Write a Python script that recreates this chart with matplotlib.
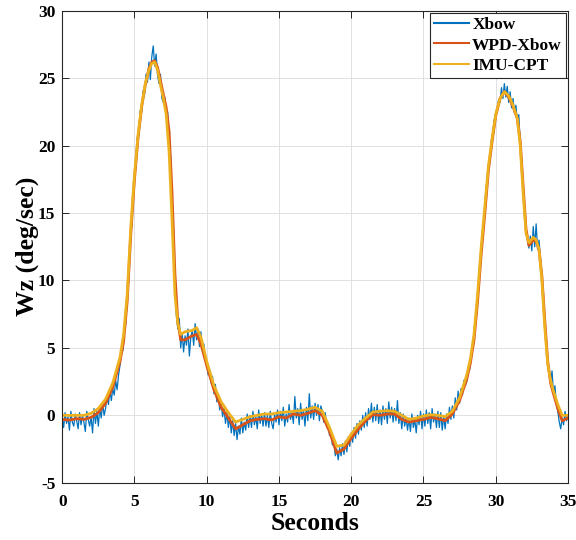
import matplotlib
matplotlib.use("Agg")
import matplotlib.pyplot as plt
import numpy as np

# Xbow raw gyro, sampled every 0.1 s (one row per second)
xbow = [
    -0.2, -0.9, 0.2, -0.6, -0.1, -1.1, 0.3, -0.5, -0.8, 0.1,
    -0.4, -1.0, 0.2, -0.7, 0.0, -0.5, -1.2, 0.3, -0.3, -0.8,
    -0.1, -1.3, 0.5, -0.6, 0.3, -0.8, 0.6, -0.2, 0.9, 0.0,
    0.5, 1.4, 0.8, 1.9, 1.1, 2.0, 1.5, 2.6, 1.9, 3.0,
    3.7, 4.9, 4.8, 6.3, 6.8, 8.9, 10.0, 12.6, 14.0, 16.3,
    17.9, 18.4, 20.6, 20.8, 22.6, 22.5, 24.1, 23.8, 25.3, 24.7,
    26.2, 24.9, 26.6, 27.4, 25.9, 26.8, 25.2, 24.6, 25.3, 23.5,
    23.2, 23.6, 22.3, 22.5, 20.4, 19.3, 15.8, 13.9, 9.6, 7.4,
    6.4, 7.2, 5.0, 6.1, 4.7, 5.9, 5.2, 6.4, 4.4, 5.8,
    6.3, 5.2, 6.8, 5.6, 6.4, 5.1, 6.2, 4.8, 5.3, 4.2,
    3.9, 3.0, 3.4, 2.4, 2.9, 1.6, 2.3, 1.0, 1.6, 0.4,
    0.9, -0.1, 0.5, -0.6, 0.2, -0.9, -0.1, -1.3, -0.4, -1.5,
    -0.6, -1.8, -0.8, -1.4, -0.2, -1.3, -0.5, -1.1, 0.1, -0.9,
    0.0, -0.9, 0.3, -0.7, -0.1, -1.0, 0.4, -0.6, 0.1, -0.8,
    0.2, -0.8, 0.0, -0.9, 0.3, -0.6, -1.0, 0.1, -0.5, 0.4,
    -0.7, 0.3, -0.4, 0.6, -0.8, 0.1, -0.5, 0.8, -0.3, 0.2,
    -0.6, 1.4, -0.2, 0.5, -0.7, 0.9, -0.3, 0.4, -0.8, 0.6,
    -0.4, 1.6, -0.2, 0.7, -0.3, 0.9, 0.0, 0.8, -0.4, 0.7,
    0.3, -0.5, 0.2, -0.6, -0.6, -1.5, -1.3, -2.2, -2.0, -3.0,
    -2.5, -3.3, -2.4, -3.0, -2.1, -2.9, -1.9, -2.7, -1.6, -2.3,
    -1.3, -2.0, -0.9, -1.7, -0.6, -1.4, -0.4, -1.1, 0.0, -0.9,
    0.2, -0.8, 0.5, -0.3, 0.9, -0.5, 0.6, -0.4, 0.8, -0.6,
    0.4, -0.7, 0.7, -0.3, 0.5, -0.6, 1.0, -0.2, 0.6, -0.5,
    0.5, -0.4, 1.1, -0.6, 0.2, -1.0, 0.1, -0.8, -0.2, -1.1,
    -0.2, -1.2, 0.1, -0.9, -0.3, -1.3, 0.0, -0.7, 0.3, -1.0,
    0.1, -0.8, 0.4, -0.6, 0.2, -1.0, 0.5, -0.5, 0.1, -0.9,
    0.3, -0.9, 0.2, -1.1, 0.0, -1.0, 0.1, -0.6, 0.6, -0.3,
    0.7, -0.2, 1.3, 0.4, 1.8, 0.9, 2.0, 1.5, 2.6, 2.2,
    2.5, 3.6, 3.4, 4.6, 4.9, 5.6, 7.0, 7.6, 9.6, 10.4,
    12.0, 13.6, 14.8, 16.4, 17.3, 18.6, 19.0, 20.4, 21.0, 21.9,
    22.4, 22.6, 23.4, 23.2, 24.3, 23.5, 24.6, 23.6, 24.4, 23.2,
    24.0, 22.8, 23.5, 22.4, 23.0, 21.7, 22.3, 20.1, 18.9, 16.8,
    15.2, 13.9, 13.0, 12.4, 13.3, 12.2, 14.0, 12.5, 14.2, 12.3,
    13.0, 11.6, 10.2, 8.5, 7.0, 5.5, 4.2, 3.2, 2.4, 3.3,
    1.6, 2.2, 0.8, 0.3, -0.5, -1.0, -0.2, -0.7, 0.3, -0.4,
    0.0,
]
t_xbow = np.arange(len(xbow)) * 0.1

# knots for the filtered / estimated curves
t_fit = [0, 0.5, 1, 1.5, 2, 2.5, 3, 3.5, 4, 4.25, 4.5, 4.75, 5, 5.25, 5.5,
         5.75, 6, 6.2, 6.4, 6.6, 6.8, 7, 7.2, 7.4, 7.6, 7.8, 8, 8.2, 8.5, 9,
         9.3, 9.6, 10, 10.5, 11, 11.5, 12, 12.5, 13, 13.5, 14, 14.5, 15, 15.5,
         16, 16.5, 17, 17.5, 18, 18.5, 19, 19.5, 20, 20.5, 21, 21.5, 22, 22.5,
         23, 23.5, 24, 24.5, 25, 25.5, 26, 26.5, 27, 27.5, 28, 28.25, 28.5,
         28.75, 29, 29.25, 29.5, 29.75, 30, 30.3, 30.6, 30.9, 31.2, 31.5, 31.7,
         31.9, 32.1, 32.3, 32.6, 32.8, 33, 33.2, 33.4, 33.6, 33.8, 34, 34.3,
         34.6, 35]

wpd_xbow = [-0.3, -0.35, -0.25, -0.3, -0.15, 0.2, 0.9, 2.1, 4.0, 5.5, 8.5,
            13.5, 17.5, 20.6, 22.9, 24.5, 25.7, 26.2, 26.3, 25.8, 24.8, 23.8,
            22.8, 21.0, 16.5, 10.5, 7.0, 5.6, 5.6, 5.9, 6.0, 5.3, 3.7, 1.9,
            0.6, -0.2, -1.0, -0.7, -0.4, -0.3, -0.25, -0.35, -0.1, -0.2, 0.1,
            0.0, 0.15, 0.35, 0.0, -1.2, -2.8, -2.5, -1.7, -1.0, -0.4, 0.05,
            0.0, 0.1, 0.1, -0.3, -0.5, -0.4, -0.3, -0.15, -0.25, -0.4, 0.1,
            1.1, 2.7, 3.9, 5.6, 8.5, 12.0, 15.0, 18.2, 20.3, 22.2, 23.5, 24.0,
            23.6, 22.9, 22.0, 20.3, 17.0, 13.8, 12.6, 13.0, 12.9, 12.3, 10.3,
            7.0, 4.0, 2.4, 1.6, 0.5, -0.4, -0.2]

imu_cpt = [0.0, 0.0, 0.0, 0.0, 0.15, 0.5, 1.2, 2.4, 4.3, 6.0, 9.0, 14.0,
           17.8, 20.8, 23.0, 24.6, 25.6, 26.1, 26.2, 25.6, 24.5, 23.5, 22.3,
           19.5, 14.5, 9.0, 6.8, 6.0, 6.2, 6.3, 6.5, 5.8, 4.0, 2.2, 1.0, 0.2,
           -0.5, -0.3, -0.1, 0.0, 0.1, 0.1, 0.2, 0.25, 0.3, 0.35, 0.45, 0.6,
           0.3, -0.9, -2.3, -2.2, -1.4, -0.7, -0.2, 0.25, 0.3, 0.35, 0.3, 0.0,
           -0.3, -0.2, -0.05, 0.05, 0.0, -0.1, 0.3, 1.3, 3.0, 4.2, 6.0, 9.0,
           12.5, 15.5, 18.5, 20.5, 22.3, 23.5, 24.0, 23.7, 23.0, 22.0, 20.0,
           16.5, 13.5, 12.8, 13.2, 13.0, 12.3, 10.0, 6.5, 3.8, 2.6, 1.8, 0.8,
           0.0, 0.0]

plt.rcParams['font.family'] = ['Liberation Serif', 'DejaVu Serif']
plt.rcParams['font.weight'] = 'bold'
plt.rcParams['axes.unicode_minus'] = False

fig = plt.figure(figsize=(5.76, 5.4), dpi=100)
ax = fig.add_axes([0.108, 0.106, 0.878, 0.874])

ax.plot(t_xbow, xbow, color='#0072BD', lw=0.9, label='Xbow')
ax.plot(t_fit, wpd_xbow, color='#D95319', lw=2.0, label='WPD-Xbow')
ax.plot(t_fit, imu_cpt, color='#EDB120', lw=2.0, label='IMU-CPT')

ax.set_xlim(0, 35)
ax.set_ylim(-5, 30)
ax.set_xticks(range(0, 36, 5))
ax.set_yticks(range(-5, 31, 5))
ax.grid(True, color='#dcdcdc', lw=0.6)
ax.set_axisbelow(True)
ax.tick_params(direction='in', top=True, right=True, length=5,
               width=0.7, labelsize=12.5, colors='#262626', labelcolor='black')
ax.tick_params(axis='x', pad=8)
ax.tick_params(axis='y', pad=5)
for s in ax.spines.values():
    s.set_color('#262626')
    s.set_linewidth(0.8)

ax.set_xlabel('Seconds', fontsize=18.5, fontweight='bold')
ax.set_ylabel('Wz (deg/sec)', fontsize=18.5, fontweight='bold')
ax.xaxis.set_label_coords(0.5, -0.062)
ax.yaxis.set_label_coords(-0.046, 0.5)

leg = ax.legend(loc='upper right', fontsize=12.5, handlelength=2.0,
                handletextpad=0.2, borderaxespad=0.1, borderpad=0.25,
                labelspacing=0.25, fancybox=False, framealpha=1)
leg.get_frame().set_edgecolor('#262626')
leg.get_frame().set_linewidth(0.8)
for line in leg.get_lines():
    line.set_linewidth(1.5)

fig.savefig('out.png', dpi=100)
